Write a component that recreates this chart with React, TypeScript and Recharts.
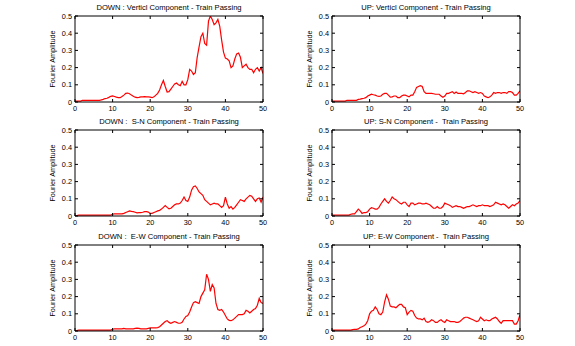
import { LineChart, Line, XAxis, YAxis } from "recharts";

// frequency axis, 0.5 Hz steps
const FREQ = Array.from({ length: 101 }, (_, i) => i * 0.5);

const X_TICKS = [0, 10, 20, 30, 40, 50];
const Y_TICKS = [0, 0.1, 0.2, 0.3, 0.4, 0.5];

const DOWN_VERT = [
  0.005, 0.005, 0.005, 0.005, 0.01, 0.01, 0.01, 0.01, 0.01, 0.01,
  0.01, 0.01, 0.01, 0.01, 0.012, 0.015, 0.02, 0.022, 0.027, 0.033,
  0.035, 0.032, 0.028, 0.025, 0.025, 0.032, 0.04, 0.05, 0.052, 0.048,
  0.04, 0.033, 0.028, 0.025, 0.027, 0.03, 0.03, 0.031, 0.03, 0.03,
  0.028, 0.025, 0.03, 0.04, 0.05, 0.07, 0.1, 0.125, 0.09, 0.058,
  0.06, 0.075, 0.09, 0.105, 0.11, 0.1, 0.095, 0.12, 0.1, 0.1,
  0.13, 0.19, 0.18, 0.16, 0.17, 0.26, 0.32, 0.38, 0.4, 0.34,
  0.33, 0.47, 0.5, 0.48, 0.45, 0.46, 0.48, 0.44, 0.36, 0.29,
  0.255, 0.25, 0.24, 0.2, 0.21, 0.25, 0.28, 0.285, 0.26, 0.2,
  0.21, 0.22, 0.2, 0.19, 0.19, 0.17, 0.19, 0.2, 0.18, 0.2,
  0.165,
];

const UP_VERT = [
  0.005, 0.005, 0.005, 0.005, 0.005, 0.005, 0.005, 0.005, 0.01, 0.01,
  0.01, 0.01, 0.01, 0.01, 0.015, 0.017, 0.02, 0.022, 0.025, 0.035,
  0.04, 0.045, 0.042, 0.04, 0.035, 0.033, 0.035, 0.045, 0.05, 0.05,
  0.04, 0.028, 0.03, 0.035, 0.035, 0.025, 0.025, 0.035, 0.04, 0.04,
  0.035, 0.03, 0.04, 0.04, 0.06, 0.085, 0.09, 0.095, 0.09, 0.06,
  0.05, 0.05, 0.05, 0.05, 0.048, 0.045, 0.045, 0.045, 0.035, 0.028,
  0.035, 0.05, 0.05, 0.055, 0.06, 0.05, 0.058, 0.05, 0.05, 0.05,
  0.048, 0.055, 0.065, 0.065, 0.06, 0.055, 0.06, 0.055, 0.05, 0.055,
  0.05, 0.035, 0.03, 0.025, 0.03, 0.04, 0.055, 0.05, 0.055, 0.055,
  0.05, 0.055, 0.055, 0.05, 0.06, 0.06, 0.055, 0.04, 0.04, 0.05,
  0.065,
];

const DOWN_SN = [
  0.002, 0.002, 0.005, 0.005, 0.005, 0.005, 0.005, 0.005, 0.005, 0.005,
  0.005, 0.005, 0.005, 0.005, 0.005, 0.005, 0.005, 0.005, 0.005, 0.005,
  0.01, 0.012, 0.012, 0.012, 0.012, 0.012, 0.015, 0.02, 0.025, 0.03,
  0.027, 0.025, 0.022, 0.018, 0.02, 0.02, 0.022, 0.025, 0.025, 0.023,
  0.015, 0.015, 0.02, 0.025, 0.03, 0.033, 0.04, 0.05, 0.06, 0.05,
  0.042, 0.045, 0.055, 0.065, 0.07, 0.07, 0.075, 0.09, 0.11, 0.09,
  0.085, 0.11, 0.15, 0.17, 0.175, 0.16, 0.14, 0.13, 0.12, 0.095,
  0.085, 0.075, 0.065, 0.07, 0.075, 0.07, 0.07, 0.06, 0.05, 0.06,
  0.11, 0.07, 0.045, 0.055, 0.04, 0.05, 0.065, 0.08, 0.095, 0.09,
  0.085, 0.1, 0.11, 0.12, 0.115, 0.1, 0.085, 0.1, 0.105, 0.08,
  0.11,
];

const UP_SN = [
  0.005, 0.005, 0.005, 0.005, 0.005, 0.005, 0.005, 0.005, 0.005, 0.005,
  0.01, 0.012, 0.012, 0.025, 0.04, 0.03, 0.015, 0.02, 0.02, 0.025,
  0.04, 0.048, 0.045, 0.04, 0.04, 0.05, 0.07, 0.085, 0.1, 0.085,
  0.075, 0.09, 0.11, 0.1, 0.095, 0.085, 0.075, 0.07, 0.08, 0.08,
  0.065, 0.055, 0.075, 0.075, 0.065, 0.07, 0.075, 0.075, 0.07, 0.07,
  0.075, 0.07, 0.065, 0.055, 0.045, 0.045, 0.055, 0.045, 0.045, 0.055,
  0.075, 0.07, 0.065, 0.06, 0.05, 0.055, 0.06, 0.055, 0.055, 0.05,
  0.045, 0.05, 0.055, 0.055, 0.06, 0.065, 0.06, 0.055, 0.06, 0.06,
  0.065, 0.06, 0.06, 0.06, 0.055, 0.06, 0.065, 0.08, 0.075, 0.07,
  0.065, 0.07, 0.065, 0.055, 0.045, 0.055, 0.065, 0.06, 0.07, 0.075,
  0.09,
];

const DOWN_EW = [
  0.003, 0.003, 0.005, 0.005, 0.005, 0.005, 0.005, 0.005, 0.005, 0.005,
  0.005, 0.005, 0.005, 0.005, 0.005, 0.005, 0.005, 0.005, 0.005, 0.005,
  0.01, 0.012, 0.012, 0.012, 0.012, 0.012, 0.015, 0.012, 0.012, 0.012,
  0.012, 0.012, 0.015, 0.017, 0.015, 0.012, 0.012, 0.012, 0.012, 0.015,
  0.018, 0.018, 0.018, 0.018, 0.02, 0.025, 0.035, 0.045, 0.055, 0.06,
  0.05, 0.045, 0.05, 0.055, 0.05, 0.045, 0.045, 0.05, 0.07, 0.085,
  0.09, 0.11, 0.14, 0.165, 0.17, 0.165, 0.16, 0.2, 0.22, 0.24,
  0.33, 0.3, 0.23, 0.27, 0.25, 0.16, 0.125, 0.12, 0.125, 0.11,
  0.09, 0.07, 0.062, 0.06, 0.065, 0.075, 0.085, 0.095, 0.095, 0.095,
  0.1, 0.12, 0.115, 0.105, 0.115, 0.125, 0.13, 0.15, 0.19, 0.165,
  0.16,
];

const UP_EW = [
  0.005, 0.005, 0.005, 0.005, 0.005, 0.005, 0.005, 0.005, 0.005, 0.005,
  0.005, 0.008, 0.01, 0.01, 0.012, 0.02, 0.025, 0.03, 0.04, 0.06,
  0.1, 0.115, 0.12, 0.14, 0.125, 0.1, 0.095, 0.11, 0.17, 0.21,
  0.185, 0.145, 0.14, 0.14, 0.135, 0.145, 0.155, 0.155, 0.14, 0.135,
  0.095, 0.11, 0.12, 0.115, 0.09, 0.075, 0.07, 0.07, 0.065, 0.075,
  0.055, 0.05, 0.055, 0.065, 0.06, 0.05, 0.05, 0.06, 0.065, 0.055,
  0.05, 0.065, 0.06, 0.055, 0.055, 0.055, 0.05, 0.05, 0.055, 0.065,
  0.075, 0.08, 0.08, 0.075, 0.07, 0.065, 0.06, 0.055, 0.06, 0.08,
  0.07, 0.06, 0.065, 0.06, 0.06, 0.07, 0.075, 0.08, 0.07, 0.055,
  0.045, 0.06, 0.06, 0.06, 0.06, 0.06, 0.06, 0.04, 0.04, 0.06,
  0.095,
];

const PANELS = [
  { title: "DOWN : Verticl Component - Train Passing", values: DOWN_VERT, left: 75, top: 16 },
  { title: "UP: Verticl Component - Train Passing", values: UP_VERT, left: 332, top: 16 },
  { title: "DOWN :  S-N Component - Train Passing", values: DOWN_SN, left: 75, top: 130 },
  { title: "UP: S-N Component -  Train Passing", values: UP_SN, left: 332, top: 130 },
  { title: "DOWN :  E-W Component - Train Passing", values: DOWN_EW, left: 75, top: 245 },
  { title: "UP: E-W Component -  Train Passing", values: UP_EW, left: 332, top: 245 },
];

const FONT = "'Liberation Sans', Arial, sans-serif";
const PLOT_W = 188;
const PLOT_H = 86;
const Y_AXIS_W = 62;
const TOP_PAD = 6;
const TICK = 3;

const BottomTick = ({ x, y, payload }: any) => (
  <g>
    <line x1={x} y1={y} x2={x} y2={y - TICK} stroke="#000" />
    <text x={x} y={y + 8.5} textAnchor="middle" fontSize={7.3} fontFamily={FONT} fill="#000">
      {payload.value}
    </text>
  </g>
);

const LeftTick = ({ x, y, payload }: any) => (
  <g>
    <line x1={x} y1={y} x2={x + TICK} y2={y} stroke="#000" />
    <text x={x - 3} y={y + 2.5} textAnchor="end" fontSize={7.3} fontFamily={FONT} fill="#000">
      {payload.value}
    </text>
  </g>
);

const TopTick = ({ x, y }: any) => (
  <line x1={x} y1={y} x2={x} y2={y + TICK} stroke="#000" />
);

const RightTick = ({ x, y }: any) => (
  <line x1={x} y1={y} x2={x - TICK} y2={y} stroke="#000" />
);

function Panel({ title, values, left, top }: { title: string; values: number[]; left: number; top: number }) {
  const data = FREQ.map((f, i) => ({ f, v: values[i] }));
  return (
    <>
      <div
        style={{
          position: "absolute",
          left: left - 20,
          top: top - 12,
          width: PLOT_W + 40,
          textAlign: "center",
          fontFamily: FONT,
          fontSize: 7.6,
          lineHeight: "8px",
          whiteSpace: "pre",
        }}
      >
        {title}
      </div>
      <div
        style={{
          position: "absolute",
          left: left - 22 - PLOT_H / 2,
          top: top + PLOT_H / 2 - 4,
          width: PLOT_H,
          textAlign: "center",
          fontFamily: FONT,
          fontSize: 7.3,
          lineHeight: "8px",
          transform: "rotate(-90deg)",
        }}
      >
        Fourier Amplitude
      </div>
      <div style={{ position: "absolute", left: left - Y_AXIS_W, top: top - 1 - TOP_PAD }}>
        <LineChart
          width={Y_AXIS_W + PLOT_W + 11}
          height={PLOT_H + 16 + TOP_PAD}
          data={data}
          margin={{ top: TOP_PAD, right: 10, bottom: 0, left: 0 }}
        >
          <XAxis
            xAxisId="b"
            type="number"
            dataKey="f"
            domain={[0, 50]}
            allowDataOverflow
            ticks={X_TICKS}
            interval={0}
            height={15}
            tickSize={0}
            tickMargin={0}
            tickLine={false}
            tick={<BottomTick />}
            axisLine={{ stroke: "#000" }}
          />
          <XAxis
            xAxisId="t"
            orientation="top"
            type="number"
            dataKey="f"
            domain={[0, 50]}
            allowDataOverflow
            ticks={X_TICKS}
            interval={0}
            height={1}
            tickSize={0}
            tickMargin={0}
            tickLine={false}
            tick={<TopTick />}
            axisLine={{ stroke: "#000" }}
          />
          <YAxis
            yAxisId="l"
            type="number"
            domain={[0, 0.5]}
            allowDataOverflow
            ticks={Y_TICKS}
            interval={0}
            width={Y_AXIS_W}
            tickSize={0}
            tickMargin={0}
            tickLine={false}
            tick={<LeftTick />}
            axisLine={{ stroke: "#000" }}
          />
          <YAxis
            yAxisId="r"
            orientation="right"
            type="number"
            domain={[0, 0.5]}
            allowDataOverflow
            ticks={Y_TICKS}
            interval={0}
            width={1}
            tickSize={0}
            tickMargin={0}
            tickLine={false}
            tick={<RightTick />}
            axisLine={{ stroke: "#000" }}
          />
          {/* invisible series so the top and right axes get drawn */}
          <Line
            xAxisId="t"
            yAxisId="r"
            type="linear"
            dataKey="v"
            stroke="none"
            dot={false}
            isAnimationActive={false}
          />
          <Line
            xAxisId="b"
            yAxisId="l"
            type="linear"
            dataKey="v"
            stroke="#ff0000"
            strokeWidth={1.2}
            dot={false}
            isAnimationActive={false}
          />
        </LineChart>
      </div>
    </>
  );
}

export default function App() {
  return (
    <div style={{ position: "absolute", left: 0, top: 0, width: 575, height: 346, background: "#fff" }}>
      {PANELS.map((p) => (
        <Panel key={p.title} {...p} />
      ))}
    </div>
  );
}
